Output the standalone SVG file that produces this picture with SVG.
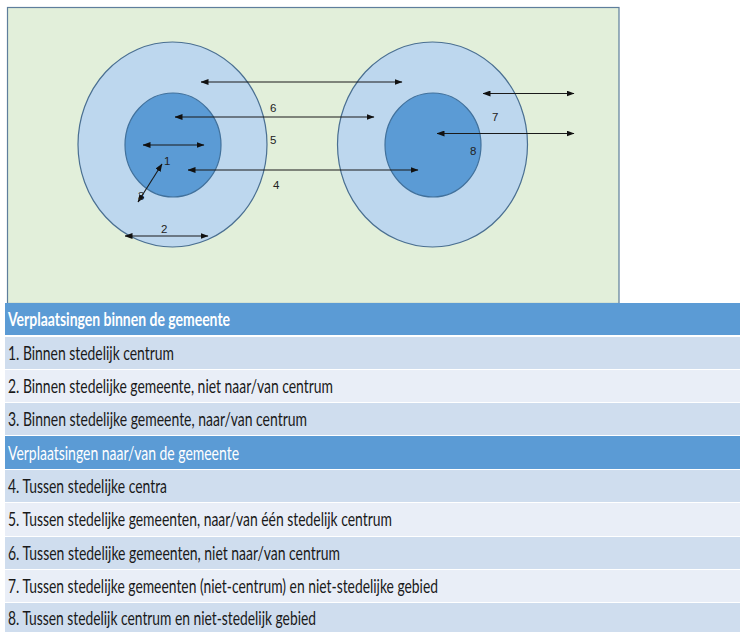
<svg xmlns="http://www.w3.org/2000/svg" width="740" height="632" viewBox="0 0 740 632">
<defs>
<marker id="ah" viewBox="0 0 8 6" refX="7.5" refY="3" markerWidth="8" markerHeight="6" markerUnits="userSpaceOnUse" orient="auto-start-reverse">
<path d="M0,0 L8,3 L0,6 z" fill="#111"/>
</marker>
<style>
.outer{fill:#BDD7EE;stroke:#4A6F91;stroke-width:1.2}
.inner{fill:#5B9BD5;stroke:#41719C;stroke-width:1.2}
.arr{stroke:#1a1a1a;stroke-width:1.1;fill:none;marker-start:url(#ah);marker-end:url(#ah)}
.num{font-family:"Liberation Sans",Arial,sans-serif;font-size:11.5px;fill:#222}
.hdr{fill:#5B9BD5}
.rd{fill:#CFDDEE}
.rl{fill:#E9EEF7}
.ht{font-family:Lato,"Liberation Sans",sans-serif;font-size:19px;fill:#fff}
.rt{font-family:Lato,"Liberation Sans",sans-serif;font-size:19px;fill:#1a1a1a}
</style>
</defs>
<rect width="740" height="632" fill="#fff"/>
<rect id="panel" x="7.5" y="7.5" width="611.5" height="296" fill="#E2EFDA" stroke="#5E7E9C" stroke-width="1.2"/>
<g id="city-left">
<ellipse class="outer" cx="172.5" cy="144.5" rx="94.5" ry="102.5"/>
<ellipse class="inner" cx="173" cy="145" rx="48" ry="52"/>
</g>
<g id="city-right">
<ellipse class="outer" cx="432.5" cy="144.5" rx="95" ry="102.5"/>
<ellipse class="inner" cx="433" cy="145" rx="48" ry="52"/>
</g>
<g id="connectors">
<line class="arr" x1="201" y1="82" x2="402" y2="82"/>
<line class="arr" x1="175" y1="117" x2="374" y2="117"/>
<line class="arr" x1="143" y1="145" x2="204" y2="145"/>
<line class="arr" x1="138" y1="202" x2="162" y2="164"/>
<line class="arr" x1="188" y1="170" x2="418" y2="170"/>
<line class="arr" x1="125" y1="236" x2="208" y2="236"/>
<line class="arr" x1="483" y1="93.5" x2="574" y2="93.5"/>
<line class="arr" x1="437" y1="133.5" x2="574" y2="133.5"/>
</g>
<g id="labels">
<text class="num" x="270" y="112">6</text>
<text class="num" x="270" y="144">5</text>
<text class="num" x="164" y="165">1</text>
<text class="num" x="138" y="200">3</text>
<text class="num" x="273" y="189">4</text>
<text class="num" x="161" y="233">2</text>
<text class="num" x="492" y="121">7</text>
<text class="num" x="470" y="155">8</text>
</g>
<g id="table">
<g id="h1"><rect class="hdr" x="5" y="303" width="735" height="32"/><text class="ht" x="8" y="326" font-weight="bold" textLength="222" lengthAdjust="spacingAndGlyphs">Verplaatsingen binnen de gemeente</text></g>
<g id="r1"><rect class="rd" x="5" y="337" width="735" height="32"/><text class="rt" x="8" y="360" textLength="166" lengthAdjust="spacingAndGlyphs">1. Binnen stedelijk centrum</text></g>
<g id="r2"><rect class="rl" x="5" y="370" width="735" height="32"/><text class="rt" x="8" y="393" textLength="325" lengthAdjust="spacingAndGlyphs">2. Binnen stedelijke gemeente, niet naar/van centrum</text></g>
<g id="r3"><rect class="rd" x="5" y="403" width="735" height="32"/><text class="rt" x="8" y="426" textLength="299" lengthAdjust="spacingAndGlyphs">3. Binnen stedelijke gemeente, naar/van centrum</text></g>
<g id="h2"><rect class="hdr" x="5" y="436" width="735" height="33"/><text class="ht" x="8" y="460" textLength="231" lengthAdjust="spacingAndGlyphs">Verplaatsingen naar/van de gemeente</text></g>
<g id="r4"><rect class="rd" x="5" y="470" width="735" height="32"/><text class="rt" x="8" y="493" textLength="159" lengthAdjust="spacingAndGlyphs">4. Tussen stedelijke centra</text></g>
<g id="r5"><rect class="rl" x="5" y="503" width="735" height="33"/><text class="rt" x="8" y="526" textLength="384" lengthAdjust="spacingAndGlyphs">5. Tussen stedelijke gemeenten, naar/van één stedelijk centrum</text></g>
<g id="r6"><rect class="rd" x="5" y="537" width="735" height="32"/><text class="rt" x="8" y="560" textLength="332" lengthAdjust="spacingAndGlyphs">6. Tussen stedelijke gemeenten, niet naar/van centrum</text></g>
<g id="r7"><rect class="rl" x="5" y="570" width="735" height="32"/><text class="rt" x="8" y="593" textLength="430" lengthAdjust="spacingAndGlyphs">7. Tussen stedelijke gemeenten (niet-centrum) en niet-stedelijke gebied</text></g>
<g id="r8"><rect class="rd" x="5" y="603" width="735" height="29"/><text class="rt" x="8" y="625" textLength="308" lengthAdjust="spacingAndGlyphs">8. Tussen stedelijk centrum en niet-stedelijk gebied</text></g>
</g>
</svg>
